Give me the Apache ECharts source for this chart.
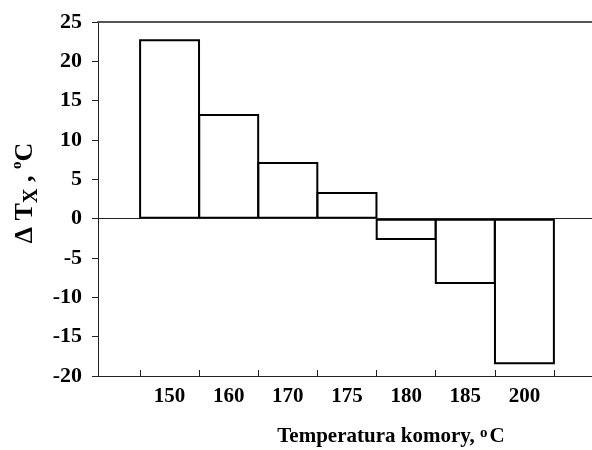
<!DOCTYPE html>
<html>
<head>
<meta charset="utf-8">
<script src="https://cdn.jsdelivr.net/npm/echarts@6/dist/echarts.min.js"></script>
<style>
html,body{margin:0;padding:0;background:#fff;}
#chart{width:592px;height:450px;}
</style>
</head>
<body>
<div id="chart"></div>
<script>
const categories = ['150', '160', '170', '175', '180', '185', '200'];
const deltaTx = [22.8, 13.3, 7.2, 3.4, -2.7, -8.3, -18.5];
const yMin = -20, yMax = 25, yStep = 5;

const FONT = '"Liberation Serif", "Times New Roman", serif';
const chart = echarts.init(document.getElementById('chart'));
chart.setOption({
  animation: false,
  backgroundColor: '#ffffff',
  grid: [
    {left: 98, right: 0, top: 22, bottom: 74, outerBoundsMode: 'none', containLabel: false},
    {left: 140, right: 38, top: 22, bottom: 74, outerBoundsMode: 'none', containLabel: false}
  ],
  xAxis: [
    {gridIndex: 0, type: 'value', min: 0, max: 1, position: 'bottom',
     axisLine: {show: true, onZero: false, lineStyle: {color: '#222', width: 1}},
     axisTick: {show: false}, axisLabel: {show: false}, splitLine: {show: false}},
    {gridIndex: 0, type: 'value', min: 0, max: 1, position: 'top',
     axisLine: {show: true, onZero: false, lineStyle: {color: '#555', width: 2}},
     axisTick: {show: false}, axisLabel: {show: false}, splitLine: {show: false}},
    {gridIndex: 1, type: 'category', data: categories, position: 'bottom', boundaryGap: true,
     axisLine: {show: true, onZero: false, lineStyle: {color: '#222', width: 1}},
     axisTick: {show: true, inside: true, length: 6, alignWithLabel: false, lineStyle: {color: '#222'}},
     axisLabel: {color: '#000', fontFamily: FONT, fontSize: 21, fontWeight: 'bold', margin: 10},
     splitLine: {show: false},
     name: 'Temperatura komory, {sup|o}C',
     nameLocation: 'middle', nameGap: 50,
     nameTextStyle: {color: '#000', fontFamily: FONT, fontSize: 21, fontWeight: 'bold', padding: [0, 0, 0, 88],
       rich: {sup: {fontFamily: FONT, fontSize: 15, fontWeight: 'bold', verticalAlign: 'top', lineHeight: 22, padding: [0, 2, 0, 0]}}}
    }
  ],
  yAxis: [
    {gridIndex: 0, type: 'value', min: yMin, max: yMax, interval: yStep,
     axisLine: {show: true, onZero: false, lineStyle: {color: '#222', width: 1}},
     axisTick: {show: true, inside: false, length: 6, lineStyle: {color: '#222'}},
     axisLabel: {color: '#000', fontFamily: FONT, fontSize: 22, fontWeight: 'bold', margin: 16},
     splitLine: {show: false},
     name: '{a|Δ T}{sub|X}{a| , }{sup|o}{a|C}',
     nameLocation: 'middle', nameGap: 56, nameRotate: 90,
     nameTextStyle: {color: '#000', padding: [0, 0, 0, 12],
       rich: {
         a: {fontFamily: FONT, fontSize: 26, fontWeight: 'bold', color: '#000', lineHeight: 32},
         sub: {fontFamily: FONT, fontSize: 20, fontWeight: 'bold', color: '#000', verticalAlign: 'bottom', lineHeight: 26},
         sup: {fontFamily: FONT, fontSize: 15, fontWeight: 'bold', color: '#000', verticalAlign: 'top', lineHeight: 32}
       }}
    },
    {gridIndex: 1, type: 'value', min: yMin, max: yMax, interval: yStep, show: false,
     splitLine: {show: false}}
  ],
  series: [
    {type: 'line', xAxisIndex: 0, yAxisIndex: 0, data: [], silent: true,
     markLine: {silent: true, symbol: ['none', 'none'], label: {show: false},
       lineStyle: {color: '#222', width: 1, type: 'solid'},
       data: [{yAxis: 0}]}},
    {type: 'bar', xAxisIndex: 2, yAxisIndex: 1, data: deltaTx,
     barWidth: '103%',
     itemStyle: {color: '#ffffff', borderColor: '#000', borderWidth: 2}}
  ]
});
</script>
</body>
</html>
